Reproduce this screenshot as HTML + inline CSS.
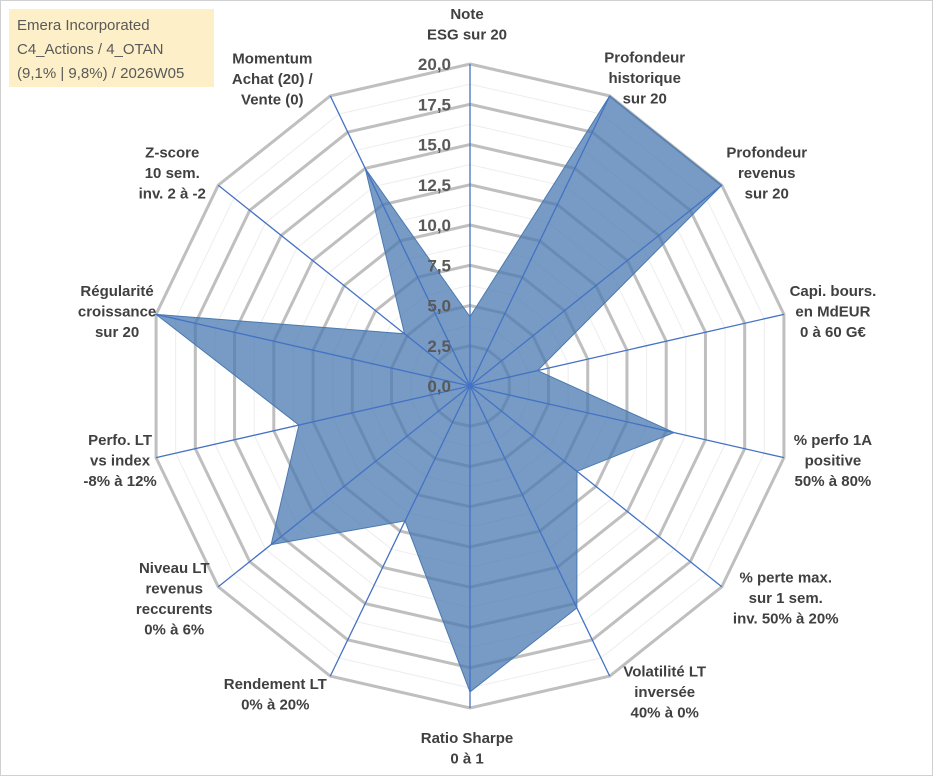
<!DOCTYPE html>
<html><head><meta charset="utf-8"><style>
body{margin:0;background:#fff;}
svg text{font-family:"Liberation Sans",sans-serif;}
</style></head><body>
<svg id="c" width="933" height="776" xmlns="http://www.w3.org/2000/svg">
<rect x="0.5" y="0.5" width="932" height="775" fill="#fff" stroke="#d0d0d0"/>
<g id="grid"></g><g id="series"></g><g id="axes"></g><g id="ticks"></g><g id="labels"></g>
<g>
<rect x="9" y="9" width="205" height="78" fill="#fdf0c8"/>
<text x="17" y="30" font-size="15" fill="#595959">Emera Incorporated</text>
<text x="17" y="54" font-size="15" fill="#595959">C4_Actions / 4_OTAN</text>
<text x="17" y="78" font-size="15" fill="#595959">(9,1% | 9,8%) / 2026W05</text>
</g>
</svg>
<script>
const categories=[["Note","ESG sur 20"],["Profondeur","historique","sur 20"],["Profondeur","revenus","sur 20"],["Capi. bours.","en MdEUR","0 à 60 G€"],["% perfo 1A","positive","50% à 80%"],["% perte max.","sur 1 sem.","inv. 50% à 20%"],["Volatilité LT","inversée","40% à 0%"],["Ratio Sharpe","0 à 1"],["Rendement LT","0% à 20%"],["Niveau LT","revenus","reccurents","0% à 6%"],["Perfo. LT","vs index","-8% à 12%"],["Régularité","croissance","sur 20"],["Z-score","10 sem.","inv. 2 à -2"],["Momentum","Achat (20) /","Vente (0)"]];
const values=[4.3,20,20,4.3,13,8.5,15.3,19,9.3,15.8,10.9,20,5.2,15];
const tickLabels=["0,0","2,5","5,0","7,5","10,0","12,5","15,0","17,5","20,0"];
const maxVal=20;
// layout: label-centre offsets from each outer vertex (pixels)
const labelOffsets=[[-3,-40],[35,-18],[45,-12],[49,-3],[49,3],[64,11],[55,16],[-3,40],[-55,18],[-44,12],[-36,3],[-39,-3],[-46,-12],[-58,-17]];
const cx=470,cy=386,R=322,N=categories.length;
const NS="http://www.w3.org/2000/svg";
function ang(i){return -Math.PI/2+i*2*Math.PI/N;}
function pt(i,v){const r=v/maxVal*R;return [cx+r*Math.cos(ang(i)),cy+r*Math.sin(ang(i))];}
function mk(t,a,p){const e=document.createElementNS(NS,t);for(const k in a)e.setAttribute(k,a[k]);document.getElementById(p).appendChild(e);return e;}
for(let s=1;s<=16;s++){const v=s*1.25;const pts=[];for(let i=0;i<N;i++)pts.push(pt(i,v).join(','));
const major=s%2===0;
const e=mk('polygon',{points:pts.join(' '),fill:'none',stroke:major?'#bfbfbf':'#ededed','stroke-width':major?3:1},'grid');

}
{const pts=values.map((v,i)=>pt(i,v).join(','));
const e=mk('polygon',{points:pts.join(' '),fill:'#4a7ab0','fill-opacity':0.75,stroke:'#4a7ab0','stroke-width':1},'series');

}
for(let i=0;i<N;i++){const [x,y]=pt(i,maxVal);
const e=mk('line',{x1:cx,y1:cy,x2:x,y2:y,stroke:'#4472c4','stroke-width':1.3},'axes');

}
tickLabels.forEach((t,k)=>{const v=k*maxVal/(tickLabels.length-1);const y=cy-v/maxVal*R;
const e=mk('text',{x:cx-19,y:y+6,'text-anchor':'end','font-size':17,'font-weight':'bold',fill:'#595959'},'ticks');
e.textContent=t;

});
categories.forEach((lines,i)=>{const [vx,vy]=pt(i,maxVal);
const lx=vx+labelOffsets[i][0],ly=vy+labelOffsets[i][1];
const lh=20.5;const top=ly-(lines.length-1)*lh/2+5;
const g=mk('text',{x:lx,'text-anchor':'middle','font-size':15,'font-weight':'bold',fill:'#404040'},'labels');


lines.forEach((l,j)=>{const ts=document.createElementNS(NS,'tspan');ts.setAttribute('x',lx);ts.setAttribute('y',top+j*lh);ts.textContent=l;g.appendChild(ts);});
});
</script>
</body></html>
